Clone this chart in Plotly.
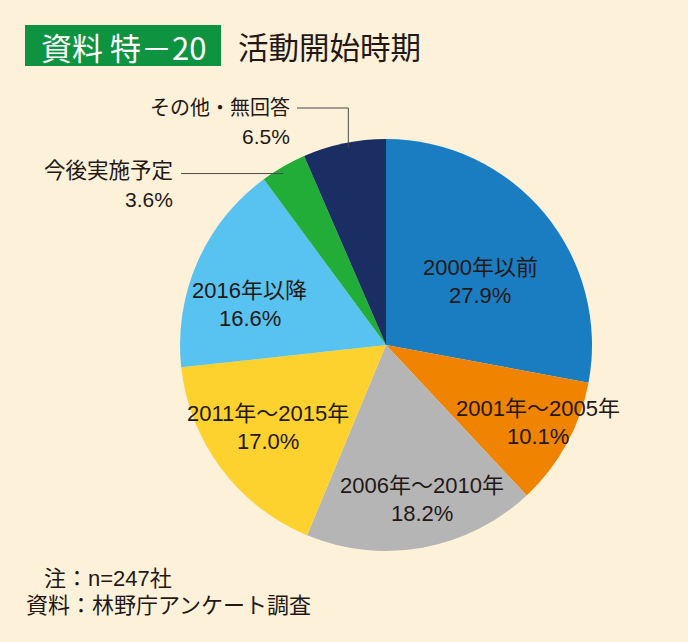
import math
import plotly.graph_objects as go

categories = ["2000年以前", "2001年～2005年", "2006年～2010年", "2011年～2015年",
              "2016年以降", "今後実施予定", "その他・無回答"]
values = [27.9, 10.1, 18.2, 17.0, 16.6, 3.6, 6.5]
pct_labels = ["27.9%", "10.1%", "18.2%", "17.0%", "16.6%", "3.6%", "6.5%"]

colors = ["#1a7dc2", "#f08300", "#b5b5b5", "#fdd22e", "#58c3f0", "#22ac38", "#1b2e63"]

W, H = 688, 642
CX, CY, R = 386, 345, 206
FONT = "Liberation Sans, Noto Sans CJK JP, sans-serif"
TFONT = "Noto Sans CJK JP, sans-serif"
TXT = "#231815"
BG = "#fef1d9"

fig = go.Figure(go.Pie(
    labels=categories, values=values, sort=False, direction="clockwise", rotation=0,
    marker=dict(colors=colors, line=dict(width=0)),
    textinfo="none", hoverinfo="label+percent", showlegend=False,
    domain=dict(x=[(CX - R) / W, (CX + R) / W], y=[1 - (CY + R) / H, 1 - (CY - R) / H]),
))

def px(x):
    return x / W

def py(y):
    return 1 - y / H

total = sum(values)
cum = 0
mids = []
for v in values:
    mids.append((cum + v / 2) / total * 360)
    cum += v

def polar(angle_deg, rfrac):
    a = math.radians(angle_deg)
    return CX + R * rfrac * math.sin(a), CY - R * rfrac * math.cos(a)

annotations = []
shapes = []

def txt(x, y, s, size=21, color=TXT, xanchor="center", family=FONT):
    annotations.append(dict(x=px(x), y=py(y), xref="paper", yref="paper",
                            xanchor=xanchor, yanchor="middle",
                            text=s, showarrow=False,
                            font=dict(family=family, size=size, color=color)))

# inside labels: (angle offset, radius fraction)
inside_pos = [(5.8, 0.55), (-1.6, 0.83), (-3.0, 0.77), (2.0, 0.70), (-7.1, 0.69)]
for i, (da, rf) in enumerate(inside_pos):
    x, y = polar(mids[i] + da, rf)
    txt(x, y - 14, categories[i], size=22)
    txt(x, y + 14, pct_labels[i], size=22)

# outside label: 今後実施予定
gx, gy = polar(mids[5] - 1.0, 0.97)
shapes.append(dict(type="line", xref="paper", yref="paper",
                   x0=px(181), y0=py(gy), x1=px(gx), y1=py(gy),
                   line=dict(color="#4a4a4a", width=1)))
txt(175, gy - 3, categories[5], size=21.5, xanchor="right")
txt(175, gy + 26, pct_labels[5], xanchor="right")

# outside label: その他・無回答
nx, ny = polar(mids[6] + 0.9, 0.975)
shapes.append(dict(type="path", xref="paper", yref="paper",
                   path=f"M {px(297)} {py(108)} L {px(nx)} {py(108)} L {px(nx)} {py(ny)}",
                   line=dict(color="#4a4a4a", width=1)))
txt(292, 108, categories[6], size=20, xanchor="right")
txt(292, 137, pct_labels[6], xanchor="right")

# title box
shapes.append(dict(type="rect", xref="paper", yref="paper",
                   x0=px(25), y0=py(66), x1=px(221), y1=py(25),
                   fillcolor="#0e9340", line=dict(width=0), layer="below"))
txt(123, 46, "資料 特－20", size=31, color="white", family=TFONT)
txt(236, 46, "活動開始時期", size=30.5, xanchor="left", family=TFONT)

# notes
txt(42, 578, "注：n=247社", size=22, xanchor="left")
txt(24, 605, "資料：林野庁アンケート調査", size=22, xanchor="left")

fig.update_layout(
    width=W, height=H, margin=dict(l=0, r=0, t=0, b=0),
    paper_bgcolor=BG, plot_bgcolor=BG,
    annotations=annotations, shapes=shapes,
)

fig.write_html("out.html", config={"displayModeBar": False},
               post_script="document.body.style.margin='0';document.body.style.overflow='hidden';")
